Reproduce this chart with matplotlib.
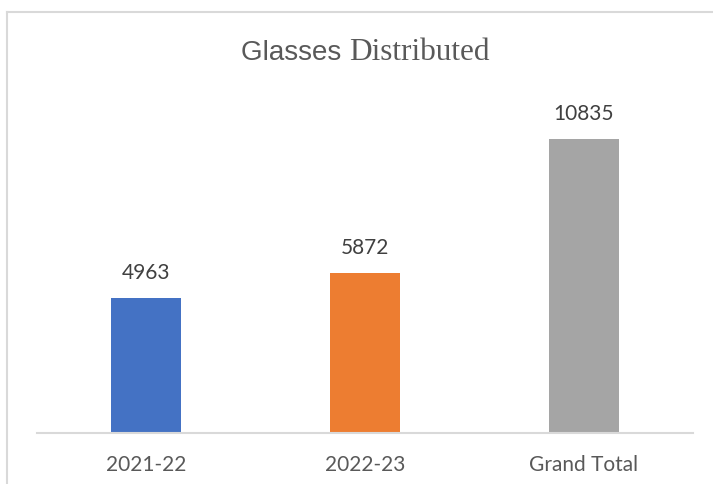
import matplotlib as mpl
mpl.use('Agg')
import matplotlib.pyplot as plt
from matplotlib.lines import Line2D

#
#--- data
#
categories = ['2021-22', '2022-23', 'Grand Total']
values     = [4963, 5872, 10835]
colors     = ['#4472C4', '#ED7D31', '#A5A5A5']

W, H = 713, 484

def fx(px):
    return px / W

def fy(py):
    return 1.0 - py / H

fig = plt.figure(figsize=(W / 100, H / 100), dpi=100)
#
#--- light gray chart frame (top and left edges visible)
#
fig.add_artist(Line2D([fx(7), fx(7)], [fy(12), 0], color='#D9D9D9', lw=1.5))
fig.add_artist(Line2D([fx(7), 1], [fy(12), fy(12)], color='#D9D9D9', lw=1.5))

#
#--- plot area
#
ax = fig.add_axes([fx(37), fy(433), fx(693) - fx(37), (433 - 107) / H])
x = range(len(categories))
ax.bar(x, values, width=0.32, color=colors, zorder=2)
ax.set_xlim(-0.5, 2.5)
ax.set_ylim(0, 12000)

for s in ('top', 'right', 'left'):
    ax.spines[s].set_visible(False)
ax.spines['bottom'].set_color('#D9D9D9')
ax.spines['bottom'].set_linewidth(1.5)
ax.set_yticks([])
ax.set_xticks(list(x))
ax.set_xticklabels(categories, fontsize=15, color='#595959', family=['Lato', 'DejaVu Sans'])
ax.tick_params(axis='x', length=0, pad=16)

for i, v in enumerate(values):
    ax.annotate(str(v), (i, v), xytext=(0, 18), textcoords='offset points',
                ha='center', va='center', fontsize=15, color='#404040',
                family=['Lato', 'DejaVu Sans'])

#
#--- title: sans "Glasses" followed by serif "Distributed"
#
t1 = fig.text(fx(241), fy(53), 'Glasses ', fontsize=20, color='#595959',
              family=['Liberation Sans Narrow', 'Liberation Sans'], ha='left', va='center')
fig.canvas.draw()
bb = t1.get_window_extent(renderer=fig.canvas.get_renderer())
fig.text(bb.x1 / W, fy(52), 'Distributed', fontsize=22.5, color='#595959',
         family=['Liberation Serif'], ha='left', va='center')

plt.savefig('out.png', dpi=100)
plt.close('all')
